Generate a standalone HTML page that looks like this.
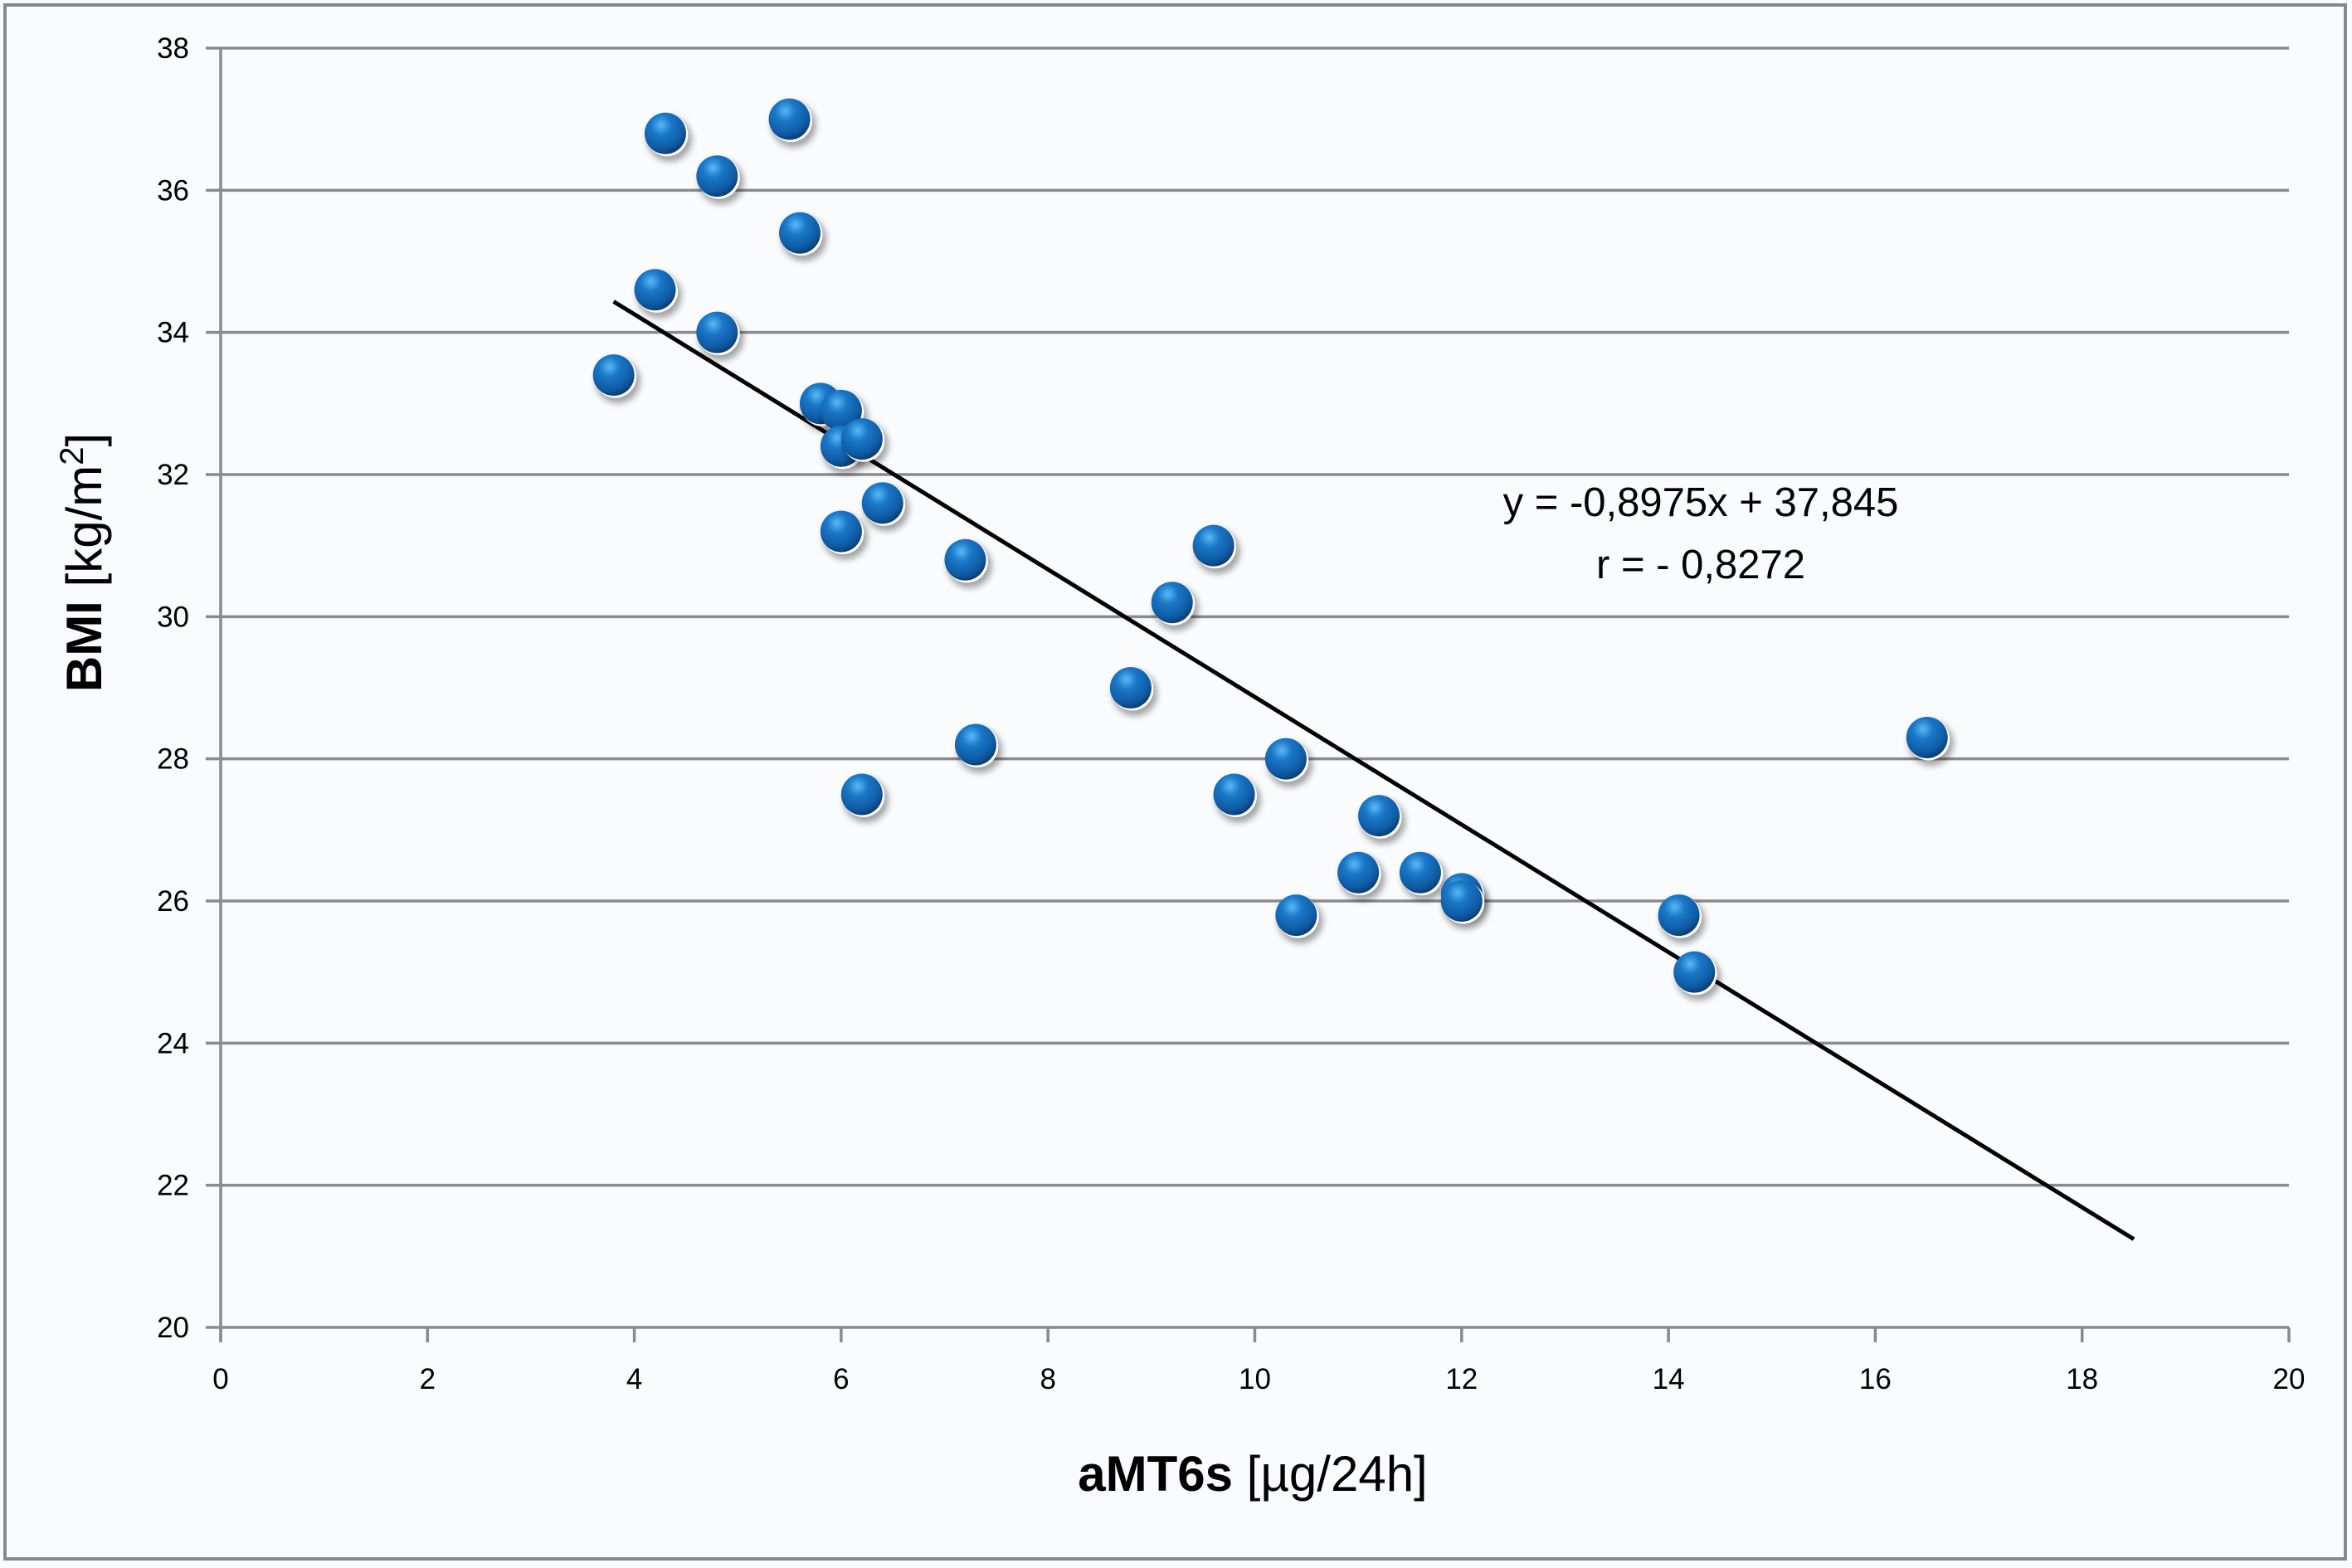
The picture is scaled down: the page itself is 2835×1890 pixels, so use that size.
<!DOCTYPE html>
<html><head><meta charset="utf-8"><style>
html,body{margin:0;padding:0;background:#fff;}
svg{display:block;}
text{font-family:"Liberation Sans",sans-serif;}
</style></head><body>
<svg id="chart" width="2835" height="1890" viewBox="0 0 2835 1890" xmlns="http://www.w3.org/2000/svg">
<defs>
<radialGradient id="ball" cx="0.4" cy="0.3" r="0.7">
<stop offset="0" stop-color="#5ab8f5"/>
<stop offset="0.35" stop-color="#1a78c8"/>
<stop offset="0.8" stop-color="#0f5aa3"/>
<stop offset="1" stop-color="#0a3f78"/>
</radialGradient>
<filter id="sh" x="-50%" y="-50%" width="200%" height="200%"><feGaussianBlur stdDeviation="4"/></filter>
</defs>
<rect x="0" y="0" width="2835" height="1890" fill="#fafbfd"/>
<rect x="6" y="6" width="2821" height="1873" fill="none" stroke="#888" stroke-width="4"/>
<g id="grid"></g>
<g id="axes"></g>
<g id="trend"></g>
<g id="points"></g>
<text x="2050" y="622" font-size="49" text-anchor="middle">y = -0,8975x + 37,845</text>
<text x="2050" y="697" font-size="49" text-anchor="middle">r = - 0,8272</text>
<text x="1510" y="1797" font-size="60" text-anchor="middle"><tspan font-weight="bold">aMT6s</tspan> [µg/24h]</text>
<text transform="translate(122,678) rotate(-90)" font-size="60" text-anchor="middle"><tspan font-weight="bold">BMI</tspan> [kg/m<tspan font-size="40" dy="-22">2</tspan><tspan dy="22">]</tspan></text>
</svg>
<script>
const xTicks=[0,2,4,6,8,10,12,14,16,18,20];
const yTicks=[20,22,24,26,28,30,32,34,36,38];
const xValues=[3.8,4.2,4.3,4.8,4.8,5.5,5.6,5.8,6.0,6.0,6.2,6.4,6.0,7.2,7.3,6.2,8.8,9.2,9.6,9.8,10.3,10.4,11.0,11.2,11.6,12.0,12.0,14.1,14.25,16.5];
const yValues=[33.4,34.6,36.8,36.2,34.0,37.0,35.4,33.0,32.9,32.4,32.5,31.6,31.2,30.8,28.2,27.5,29.0,30.2,31.0,27.5,28.0,25.8,26.4,27.2,26.4,26.1,26.0,25.8,25.0,28.3];
const trendX=[3.8,18.5];
const slope=-0.8975, intercept=37.845;
const X0=266,X1=2759,Y0=1600,Y1=58;
function sx(v){return X0+(v-0)/(20-0)*(X1-X0);}
function sy(v){return Y0-(v-20)/(38-20)*(Y0-Y1);}
const NS="http://www.w3.org/2000/svg";
function mk(tag,attrs,parent){const e=document.createElementNS(NS,tag);for(const k in attrs)e.setAttribute(k,attrs[k]);parent.appendChild(e);return e;}
const grid=document.getElementById('grid'),axes=document.getElementById('axes');
yTicks.forEach(t=>{
  const l=mk('line',{x1:X0-18,x2:X1,y1:sy(t),y2:sy(t),stroke:'#8a8a8a','stroke-width':3.5},grid);
  
  
  const tx=mk('text',{x:X0-38,y:sy(t)+12,'font-size':35,'text-anchor':'end'},axes);
  tx.textContent=t;
  
  
});
const ya=mk('line',{x1:X0,x2:X0,y1:Y1,y2:Y0+18,stroke:'#8a8a8a','stroke-width':3.5},axes);


xTicks.forEach(t=>{
  const l=mk('line',{x1:sx(t),x2:sx(t),y1:Y0,y2:Y0+18,stroke:'#8a8a8a','stroke-width':3.5},axes);
  
  
  const tx=mk('text',{x:sx(t),y:Y0+74,'font-size':35,'text-anchor':'middle'},axes);
  tx.textContent=t;
  
  
});
const tl=mk('line',{x1:sx(trendX[0]),y1:sy(slope*trendX[0]+intercept),x2:sx(trendX[1]),y2:sy(slope*trendX[1]+intercept),stroke:'#000','stroke-width':5},document.getElementById('trend'));


const pts=document.getElementById('points');
xValues.forEach((x,i)=>{
  const g=mk('g',{},pts);
  
  
  const cx=sx(x),cy=sy(yValues[i]);
  mk('circle',{cx:cx+5,cy:cy+7,r:27,fill:'#000',opacity:0.35,filter:'url(#sh)'},g);
  mk('circle',{cx:cx+2,cy:cy+2,r:25.5,fill:'#fff'},g);
  mk('circle',{cx:cx,cy:cy,r:25,fill:'url(#ball)'},g);
});
</script>
</body></html>
